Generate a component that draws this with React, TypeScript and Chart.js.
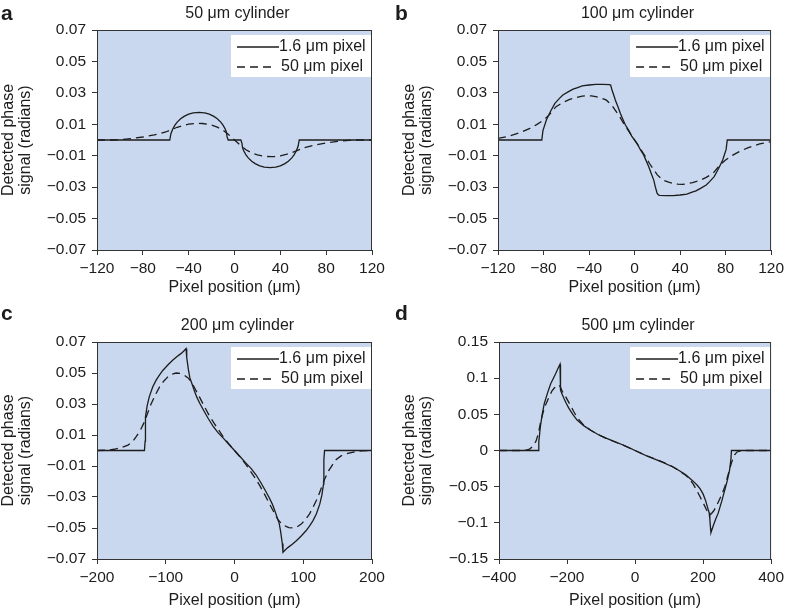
import React, { useEffect, useRef } from "react";
import { Chart, registerables } from "chart.js";

Chart.register(...registerables);

const FONT = "'Liberation Sans', Arial, Helvetica, sans-serif";
const BG = "rgb(201, 216, 238)";
const INK = "#1c1c1c";

// ---------- Panel a: 50 µm cylinder ----------
const A_SOLID_X = [-120, -56.5, -55.5, -54, -52, -50, -47, -44, -40, -36, -31, -26, -22, -18, -15, -12, -10, -8, -7, -6.5, -5.5, 5.5, 6.5, 7, 8, 10, 12, 15, 18, 22, 26, 31, 36, 40, 44, 47, 50, 52, 54, 55.5, 56.5, 120];
const A_SOLID_Y = [0, 0, 0.004, 0.0069, 0.0095, 0.0114, 0.0135, 0.015, 0.0164, 0.0172, 0.0176, 0.0172, 0.0164, 0.015, 0.0135, 0.0114, 0.0095, 0.0069, 0.0049, 0.002, 0, 0, -0.002, -0.0049, -0.0069, -0.0095, -0.0114, -0.0135, -0.015, -0.0164, -0.0172, -0.0176, -0.0172, -0.0164, -0.015, -0.0135, -0.0114, -0.0095, -0.0069, -0.004, 0, 0];
const A_DASH_X = [-120, -105, -100, -90, -80, -70, -60, -55, -50, -45, -40, -35, -32, -28, -24, -20, -15, -10, -5, 0, 5, 10, 15, 20, 24, 28, 32, 35, 40, 45, 50, 55, 60, 70, 80, 90, 100, 105, 120];
const A_DASH_Y = [0, 0, 0.0003, 0.0009, 0.0019, 0.0032, 0.0051, 0.0066, 0.0081, 0.0092, 0.0101, 0.0105, 0.0106, 0.0105, 0.0101, 0.0095, 0.0082, 0.0062, 0.0033, 0, -0.0033, -0.0062, -0.0082, -0.0095, -0.0101, -0.0105, -0.0106, -0.0105, -0.0101, -0.0092, -0.0081, -0.0066, -0.0051, -0.0032, -0.0019, -0.0009, -0.0003, 0, 0];

// ---------- Panel b: 100 µm cylinder ----------
const B_SOLID_X = [-120, -81.5, -80.5, -77.5, -74, -70, -66, -63, -58, -54, -50, -46, -40, -34, -28, -22, -21, -19.8, -18, -16.9, -14.5, -12.5, -10, -8, -5, -2.5, 0, 2.5, 5, 8, 10, 12.5, 14.5, 16.9, 18, 19.8, 21, 22, 28, 34, 40, 46, 50, 54, 58, 63, 66, 70, 74, 77.5, 80.5, 81.5, 120];
const B_SOLID_Y = [0, 0, 0.006, 0.0127, 0.018, 0.0233, 0.0265, 0.0286, 0.0308, 0.0324, 0.0334, 0.0344, 0.035, 0.0354, 0.0354, 0.0352, 0.035, 0.0318, 0.028, 0.0255, 0.021, 0.017, 0.0128, 0.0095, 0.006, 0.0025, 0, -0.0025, -0.006, -0.0095, -0.0128, -0.017, -0.021, -0.0255, -0.029, -0.0338, -0.035, -0.0352, -0.0354, -0.0354, -0.035, -0.0344, -0.0334, -0.0324, -0.0308, -0.0286, -0.0265, -0.0233, -0.018, -0.0127, -0.006, 0, 0];
const B_DASH_X = [-120, -110, -100, -92, -86, -80, -75, -69, -63, -57, -51, -46, -42, -38, -34, -30, -25, -20, -17, -13, -10, -5, 0, 5, 10, 13, 17, 20, 25, 30, 34, 38, 42, 46, 51, 57, 63, 69, 75, 80, 86, 92, 100, 110, 120];
const B_DASH_Y = [0.001, 0.0025, 0.0048, 0.0074, 0.0098, 0.0127, 0.016, 0.0212, 0.0238, 0.0258, 0.0271, 0.0279, 0.0282, 0.0281, 0.0276, 0.0268, 0.0255, 0.0222, 0.019, 0.0148, 0.011, 0.0055, 0, -0.0055, -0.011, -0.0148, -0.019, -0.0222, -0.0255, -0.0268, -0.0276, -0.0281, -0.0282, -0.0279, -0.0271, -0.0258, -0.0238, -0.0212, -0.016, -0.0127, -0.0098, -0.0074, -0.0048, -0.0025, -0.001];

// ---------- Panel c: 200 µm cylinder ----------
const C_SOLID_X = [-200, -131, -130, -129.5, -127, -124, -119, -114, -109, -104, -97, -90, -84, -78, -74, -70.5, -69.5, -67, -65, -62, -58, -55, -50, -45, -38, -31, -24, -16, -8, 0, 8, 16, 24, 31, 38, 45, 50, 55, 58, 62, 65, 67, 69.5, 70.5, 74, 78, 84, 90, 97, 104, 109, 114, 119, 124, 127, 129.5, 130, 131, 200];
const C_SOLID_Y = [0, 0, 0.006, 0.0217, 0.029, 0.0346, 0.041, 0.0454, 0.0488, 0.0518, 0.0552, 0.0582, 0.0605, 0.0625, 0.064, 0.0657, 0.06, 0.052, 0.047, 0.0432, 0.038, 0.0346, 0.03, 0.026, 0.0205, 0.0155, 0.0115, 0.0078, 0.0039, 0, -0.0039, -0.0078, -0.0115, -0.0155, -0.0205, -0.026, -0.03, -0.0346, -0.038, -0.0432, -0.047, -0.052, -0.06, -0.0657, -0.064, -0.0625, -0.0605, -0.0582, -0.0552, -0.0518, -0.0488, -0.0454, -0.041, -0.0346, -0.029, -0.0217, -0.006, 0, 0];
const C_DASH_X = [-200, -185, -175, -165, -155, -148, -143, -137, -131, -126, -121, -115, -109, -103, -97, -91, -85, -79, -73, -68, -63, -57, -51, -44, -37, -30, -23, -17, -10, -5, 0, 5, 10, 17, 23, 30, 37, 44, 51, 57, 63, 68, 73, 79, 85, 91, 97, 103, 109, 115, 121, 126, 131, 137, 143, 148, 155, 165, 175, 185, 200];
const C_DASH_Y = [0, 0.0002, 0.0008, 0.0018, 0.0035, 0.0058, 0.0089, 0.013, 0.0185, 0.0245, 0.0304, 0.036, 0.041, 0.0447, 0.0475, 0.0493, 0.05, 0.0497, 0.0486, 0.047, 0.0445, 0.0395, 0.0346, 0.0285, 0.0228, 0.0178, 0.0132, 0.0093, 0.0052, 0.0026, 0, -0.0026, -0.0052, -0.0093, -0.0132, -0.0178, -0.0228, -0.0285, -0.0346, -0.0395, -0.0445, -0.047, -0.0486, -0.0497, -0.05, -0.0493, -0.0475, -0.0447, -0.041, -0.036, -0.0304, -0.0245, -0.0185, -0.013, -0.0089, -0.0058, -0.0035, -0.0018, -0.0008, -0.0002, 0];

// ---------- Panel d: 500 µm cylinder ----------
const D_SOLID_X = [-400, -284.5, -283, -278.4, -273, -266.8, -257, -247.7, -240, -233.2, -227, -220.6, -219.5, -218.8, -214, -208.9, -202, -194.4, -183, -170.4, -150, -131.8, -110, -83.4, -60, -35.2, -18, 0, 18, 35.2, 60, 83.4, 110, 131.8, 150, 170, 183, 191.5, 200, 208, 214, 218, 220, 222, 223.3, 230, 237, 244.5, 255, 264, 271, 278, 282, 283.5, 400];
const D_SOLID_Y = [0, 0, 0.012, 0.0328, 0.05, 0.065, 0.08, 0.0927, 0.1, 0.1064, 0.113, 0.1193, 0.095, 0.0834, 0.0775, 0.072, 0.065, 0.0582, 0.05, 0.042, 0.034, 0.0283, 0.0225, 0.0168, 0.0122, 0.0076, 0.0039, 0, -0.0039, -0.0076, -0.0122, -0.0168, -0.0225, -0.0283, -0.034, -0.042, -0.048, -0.053, -0.06, -0.07, -0.08, -0.086, -0.095, -0.108, -0.1135, -0.104, -0.095, -0.0866, -0.07, -0.0545, -0.042, -0.027, -0.012, 0, 0];
const D_DASH_X = [-400, -330, -320, -310, -300, -291, -284, -277, -270, -264, -257, -250, -244, -238, -231, -226, -223, -218, -214, -209, -200, -190, -180, -170, -150, -130, -110, -85, -60, -35, -18, 0, 18, 35, 60, 85, 110, 130, 150, 170, 180, 190, 200, 210, 216, 220.5, 225, 232, 240, 248, 256, 264, 271, 278, 285, 292.8, 300, 310, 325, 400];
const D_DASH_Y = [0, 0, 0.0005, 0.002, 0.006, 0.013, 0.024, 0.041, 0.053, 0.062, 0.0696, 0.077, 0.0825, 0.086, 0.0895, 0.0905, 0.0903, 0.0865, 0.0815, 0.0789, 0.071, 0.0625, 0.0535, 0.0455, 0.0345, 0.028, 0.0222, 0.0166, 0.0121, 0.0075, 0.0038, 0, -0.0038, -0.0075, -0.0121, -0.0166, -0.0222, -0.028, -0.0345, -0.0455, -0.054, -0.063, -0.072, -0.082, -0.087, -0.0889, -0.087, -0.083, -0.076, -0.068, -0.06, -0.05, -0.038, -0.026, -0.015, -0.006, -0.002, -0.0005, 0, 0];

// ---------- Axes ----------
const X_TICKS_AB = [-120, -80, -40, 0, 40, 80, 120];
const X_TICKS_C = [-200, -100, 0, 100, 200];
const X_TICKS_D = [-400, -200, 0, 200, 400];
const Y_TICKS_ABC = [-0.07, -0.05, -0.03, -0.01, 0.01, 0.03, 0.05, 0.07];
const Y_TICKS_D = [-0.15, -0.1, -0.05, 0, 0.05, 0.1, 0.15];

const SERIES_NAMES = ["1.6 \u03bcm pixel", "50 \u03bcm pixel"];
const X_TITLE = "Pixel position (\u03bcm)";
const Y_TITLE = ["Detected phase", "signal (radians)"];

type Area = { left: number; top: number; right: number; bottom: number };
type Spec = {
  letter: string;
  title: string;
  pos: { left: number; top: number; w: number; h: number };
  area: Area;
  yTitlePad: number;
  xTicks: number[];
  yTicks: number[];
  solidX: number[];
  solidY: number[];
  dashX: number[];
  dashY: number[];
};

const PANELS: Spec[] = [
  {
    letter: "a", title: "50 \u03bcm cylinder",
    pos: { left: 0, top: 0, w: 394, h: 300 },
    area: { left: 97, top: 30, right: 372, bottom: 250 },
    yTitlePad: 0, xTicks: X_TICKS_AB, yTicks: Y_TICKS_ABC,
    solidX: A_SOLID_X, solidY: A_SOLID_Y, dashX: A_DASH_X, dashY: A_DASH_Y,
  },
  {
    letter: "b", title: "100 \u03bcm cylinder",
    pos: { left: 394, top: 0, w: 394, h: 300 },
    area: { left: 104, top: 30, right: 381, bottom: 250 },
    yTitlePad: 7, xTicks: X_TICKS_AB, yTicks: Y_TICKS_ABC,
    solidX: B_SOLID_X, solidY: B_SOLID_Y, dashX: B_DASH_X, dashY: B_DASH_Y,
  },
  {
    letter: "c", title: "200 \u03bcm cylinder",
    pos: { left: 0, top: 300, w: 394, h: 313 },
    area: { left: 97, top: 42, right: 372, bottom: 259 },
    yTitlePad: 0, xTicks: X_TICKS_C, yTicks: Y_TICKS_ABC,
    solidX: C_SOLID_X, solidY: C_SOLID_Y, dashX: C_DASH_X, dashY: C_DASH_Y,
  },
  {
    letter: "d", title: "500 \u03bcm cylinder",
    pos: { left: 394, top: 300, w: 394, h: 313 },
    area: { left: 105, top: 42, right: 381, bottom: 259 },
    yTitlePad: 7, xTicks: X_TICKS_D, yTicks: Y_TICKS_D,
    solidX: D_SOLID_X, solidY: D_SOLID_Y, dashX: D_DASH_X, dashY: D_DASH_Y,
  },
];

const zip = (xs: number[], ys: number[]) => xs.map((x, i) => ({ x, y: ys[i] }));
const fmt = (v: number) => String(v).replace("-", "\u2212");

function Panel({ spec }: { spec: Spec }) {
  const ref = useRef<HTMLCanvasElement | null>(null);
  useEffect(() => {
    const canvas = ref.current;
    if (!canvas) return;
    const { w, h } = spec.pos;
    const area = spec.area;

    const decor = {
      id: "decor",
      beforeDatasetsDraw(chart: any) {
        const { ctx, chartArea: ca } = chart;
        ctx.save();
        ctx.fillStyle = BG;
        ctx.fillRect(ca.left, ca.top, ca.right - ca.left, ca.bottom - ca.top);
        ctx.restore();
      },
      afterDatasetsDraw(chart: any) {
        const { ctx, chartArea: ca } = chart;
        ctx.save();
        // legend box
        const lw = 141, lh = 42;
        const lx = ca.right - lw, ly = ca.top + 5;
        ctx.fillStyle = "#ffffff";
        ctx.fillRect(lx, ly, lw, lh);
        ctx.strokeStyle = INK;
        ctx.lineWidth = 1.3;
        ctx.beginPath();
        ctx.moveTo(lx + 6, ly + 12);
        ctx.lineTo(lx + 48, ly + 12);
        ctx.stroke();
        ctx.setLineDash([8, 5]);
        ctx.beginPath();
        ctx.moveTo(lx + 6, ly + 32);
        ctx.lineTo(lx + 43, ly + 32);
        ctx.stroke();
        ctx.setLineDash([]);
        ctx.fillStyle = INK;
        ctx.font = `16px ${FONT}`;
        ctx.textAlign = "left";
        ctx.textBaseline = "middle";
        ctx.fillText(SERIES_NAMES[0], lx + 48, ly + 12);
        ctx.fillText(SERIES_NAMES[1], lx + 50, ly + 32);
        // frame
        ctx.strokeStyle = "#333";
        ctx.lineWidth = 1;
        ctx.strokeRect(ca.left + 0.5, ca.top + 0.5, ca.right - ca.left - 1, ca.bottom - ca.top);
        ctx.restore();
      },
      afterDraw(chart: any) {
        const { ctx, chartArea: ca } = chart;
        ctx.save();
        ctx.fillStyle = INK;
        ctx.font = `16px ${FONT}`;
        ctx.textAlign = "center";
        ctx.textBaseline = "middle";
        ctx.fillText(spec.title, (ca.left + ca.right) / 2 + 3, ca.top - 16);
        ctx.font = `bold 21px ${FONT}`;
        ctx.textAlign = "left";
        ctx.textBaseline = "alphabetic";
        ctx.fillText(spec.letter, 1, 20);
        ctx.restore();
      },
    };

    const chart = new Chart(canvas, {
      type: "scatter",
      data: {
        datasets: [
          {
            label: SERIES_NAMES[0],
            data: zip(spec.solidX, spec.solidY),
            showLine: true,
            borderColor: INK,
            backgroundColor: INK,
            borderWidth: 1.3,
            pointRadius: 0,
            tension: 0,
          },
          {
            label: SERIES_NAMES[1],
            data: zip(spec.dashX, spec.dashY),
            showLine: true,
            borderColor: INK,
            backgroundColor: INK,
            borderWidth: 1.3,
            borderDash: [8, 5],
            pointRadius: 0,
            tension: 0,
          },
        ],
      },
      options: {
        responsive: false,
        animation: false,
        devicePixelRatio: 1,
        layout: { padding: { left: 0, top: area.top, right: w - area.right, bottom: 0 } },
        plugins: { legend: { display: false }, tooltip: { enabled: false }, title: { display: false } },
        scales: {
          x: {
            type: "linear",
            min: spec.xTicks[0],
            max: spec.xTicks[spec.xTicks.length - 1],
            afterBuildTicks: (axis: any) => {
              axis.ticks = spec.xTicks.map((v) => ({ value: v }));
            },
            afterFit: (s: any) => {
              s.height = h - area.bottom;
            },
            ticks: {
              autoSkip: false,
              maxRotation: 0,
              padding: 4,
              color: INK,
              font: { family: FONT, size: 15.5 },
              callback: (v: any) => fmt(Number(v)),
            },
            grid: { drawOnChartArea: false, drawTicks: true, tickLength: 5, color: "#333" },
            border: { display: true, color: "#333" },
            title: {
              display: true,
              text: X_TITLE,
              color: INK,
              font: { family: FONT, size: 16 },
              padding: { top: 0, bottom: 3 },
            },
          },
          y: {
            type: "linear",
            min: spec.yTicks[0],
            max: spec.yTicks[spec.yTicks.length - 1],
            afterBuildTicks: (axis: any) => {
              axis.ticks = spec.yTicks.map((v) => ({ value: v }));
            },
            afterFit: (s: any) => {
              s.width = area.left;
            },
            ticks: {
              autoSkip: false,
              padding: 6,
              color: INK,
              font: { family: FONT, size: 15.5 },
              callback: (v: any) => fmt(Number(v)),
            },
            grid: { drawOnChartArea: false, drawTicks: true, tickLength: 5, color: "#333" },
            border: { display: true, color: "#333" },
            title: {
              display: true,
              text: Y_TITLE,
              color: INK,
              font: { family: FONT, size: 16, lineHeight: 1.08 },
              padding: { top: spec.yTitlePad, bottom: 0 },
            },
          },
        },
      },
      plugins: [decor],
    } as any);
    return () => chart.destroy();
  }, [spec]);

  const { left, top, w, h } = spec.pos;
  return (
    <canvas
      ref={ref}
      width={w}
      height={h}
      style={{ position: "absolute", left, top, width: w, height: h, display: "block" }}
    />
  );
}

export default function App() {
  return (
    <div style={{ position: "fixed", left: 0, top: 0, width: 788, height: 613, background: "#ffffff", overflow: "hidden" }}>
      {PANELS.map((p) => (
        <Panel key={p.letter} spec={p} />
      ))}
    </div>
  );
}
